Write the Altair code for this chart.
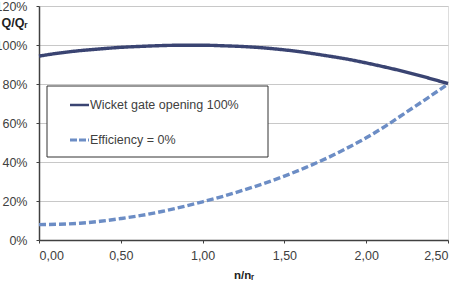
import altair as alt
import pandas as pd

n_ratio = [0.0, 0.125, 0.25, 0.375, 0.5, 0.625, 0.75, 0.875, 1.0, 1.125, 1.25,
           1.375, 1.5, 1.625, 1.75, 1.875, 2.0, 2.125, 2.25, 2.375, 2.5]
wicket_gate = [0.943, 0.959, 0.971, 0.980, 0.988, 0.993, 0.997, 0.999, 0.999, 0.996, 0.992,
               0.985, 0.975, 0.962, 0.946, 0.929, 0.908, 0.885, 0.860, 0.832, 0.802]
efficiency = [0.079, 0.081, 0.086, 0.096, 0.110, 0.126, 0.146, 0.170, 0.196, 0.224, 0.256,
              0.290, 0.328, 0.370, 0.416, 0.468, 0.524, 0.588, 0.658, 0.728, 0.800]
series_names = ["Wicket gate opening 100%", "Efficiency = 0%"]
series_colors = ["#3A4472", "#6C8DC5"]
x_ticks = [0.0, 0.5, 1.0, 1.5, 2.0, 2.5]
y_ticks = [0.0, 0.2, 0.4, 0.6, 0.8, 1.0, 1.2]

rows = []
for i, x in enumerate(n_ratio):
    rows.append({"n": x, "q": wicket_gate[i], "series": series_names[0]})
    rows.append({"n": x, "q": efficiency[i], "series": series_names[1]})
df = pd.DataFrame(rows)

FONT = "Liberation Sans"

x_enc = alt.X("n:Q", scale=alt.Scale(domain=[0, 2.5], nice=False),
              axis=alt.Axis(values=x_ticks, grid=False,
                            labelExpr="replace(format(datum.value, '.2f'), '.', ',')",
                            labelFont=FONT, labelFontSize=12.5, labelColor="#404040",
                            title="n/nᵣ", titleFont=FONT, titleFontWeight="bold", titleFontSize=11.5,
                            titleColor="#222222",
                            titlePadding=8, labelPadding=6, tickSize=3,
                            domainColor="#404040", tickColor="#404040", domainWidth=1.5))
y_enc = alt.Y("q:Q", scale=alt.Scale(domain=[0, 1.2], nice=False),
              axis=alt.Axis(values=y_ticks, format=".0%", grid=True,
                            labelFont=FONT, labelFontSize=12.5, labelColor="#404040",
                            gridColor="#C8C8C8", title="Q/Qᵣ", titleAngle=0,
                            titleFont=FONT, titleColor="#222222",
                            titleFontWeight="bold", titleFontSize=12.5,
                            titleX=-25, titleY=16, titleAlign="center", titleBaseline="middle",
                            labelPadding=9, tickSize=3,
                            domainColor="#404040", tickColor="#404040", domainWidth=1.5))

color_scale = alt.Scale(domain=series_names, range=series_colors)
dash_scale = alt.Scale(domain=series_names, range=[[1, 0], [7, 3]])

lines = alt.Chart(df).mark_line(strokeWidth=3.4, interpolate="monotone").encode(
    x=x_enc, y=y_enc,
    color=alt.Color("series:N", scale=color_scale, legend=None),
    strokeDash=alt.StrokeDash("series:N", scale=dash_scale, legend=None),
)

one = alt.Data(values=[{"a": 1}])
legend_box = alt.Chart(one).mark_rect(fill="white", stroke="#333333", strokeWidth=1).encode(
    x=alt.value(8), x2=alt.value(229), y=alt.value(80), y2=alt.value(151))
leg_line1 = alt.Chart(one).mark_rule(color=series_colors[0], strokeWidth=2.5).encode(
    x=alt.value(31), x2=alt.value(50), y=alt.value(99))
leg_line2 = alt.Chart(one).mark_rule(color=series_colors[1], strokeWidth=3, strokeDash=[7, 2]).encode(
    x=alt.value(31), x2=alt.value(50), y=alt.value(134))
leg_text1 = alt.Chart(one).mark_text(align="left", baseline="middle", fontSize=12.5,
                                     font=FONT, color="#404040").encode(
    x=alt.value(51), y=alt.value(99), text=alt.value(series_names[0]))
leg_text2 = alt.Chart(one).mark_text(align="left", baseline="middle", fontSize=12.5,
                                     font=FONT, color="#404040").encode(
    x=alt.value(51), y=alt.value(134), text=alt.value(series_names[1]))

chart = alt.layer(lines, legend_box, leg_line1, leg_line2, leg_text1, leg_text2).properties(
    width=409, height=234,
    autosize=alt.AutoSizeParams(type="none"),
    padding={"left": 39, "top": 6, "right": 15, "bottom": 46},
).configure_view(stroke="#A6A6A6", strokeWidth=1.2).configure(background="white")

chart.save("out.html", embed_options={"renderer": "svg", "actions": False})
